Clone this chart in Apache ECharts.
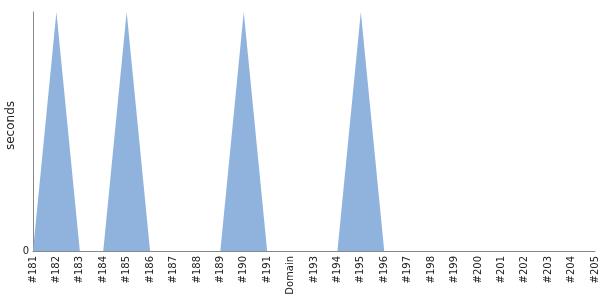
<!DOCTYPE html>
<html><head><meta charset="utf-8">
<script src="https://cdn.jsdelivr.net/npm/echarts@6/dist/echarts.min.js"></script>
<style>html,body{margin:0;padding:0;background:#fff}#c{width:600px;height:300px}</style>
</head><body><div id="c"></div>
<script>
var categories = ['#181','#182','#183','#184','#185','#186','#187','#188','#189','#190','#191','Domain','#193','#194','#195','#196','#197','#198','#199','#200','#201','#202','#203','#204','#205'];
var seconds = [0,1,0,0,1,0,0,0,0,1,0,0,0,0,1,0,0,0,0,0,0,0,0,0,0];
var yTicks = ['0'];
var chart = echarts.init(document.getElementById('c'));
chart.setOption({
  animation:false,
  grid:{left:33,right:5,top:12,bottom:49,containLabel:false,outerBoundsMode:'none'},
  xAxis:{type:'category',data:categories,boundaryGap:false,
    axisLine:{lineStyle:{color:'#888'}},axisTick:{show:false},
    axisLabel:{rotate:90,interval:0,color:'#222',fontFamily:'DejaVu Sans',fontSize:10,margin:5}},
  yAxis:{type:'value',min:0,max:1,interval:1,name:'seconds',nameLocation:'middle',nameGap:16,nameMoveOverlap:false,
    nameTextStyle:{color:'#222',fontFamily:'DejaVu Sans',fontSize:12,padding:[0,0,0,12]},
    axisLine:{show:true,lineStyle:{color:'#888'}},axisTick:{show:false},splitLine:{show:false},
    axisLabel:{color:'#222',fontFamily:'DejaVu Sans',fontSize:10,margin:4,
      formatter:function(v){return v===0?yTicks[0]:'';}}},
  series:[{type:'line',data:seconds,symbol:'none',lineStyle:{width:0},
    areaStyle:{color:'#8fb3dd',opacity:1}}]
});
</script></body></html>
